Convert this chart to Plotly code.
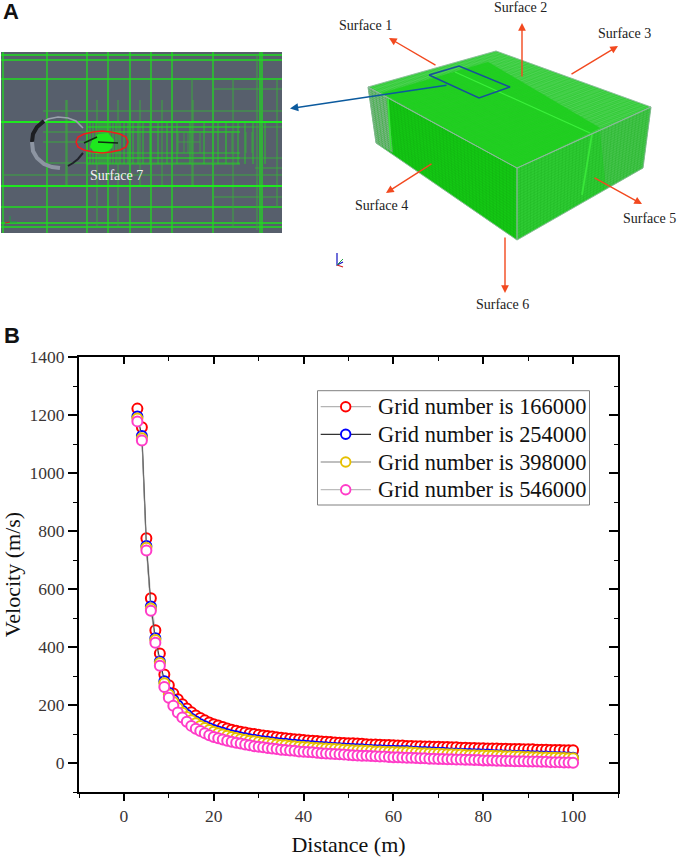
import plotly.graph_objects as go

# ---------- panel B data ----------
distance = list(range(3, 101))
grid_166000 = [1222,1158,775,568,458,378,305,268,240,220,
               203,188,175,164,155,147,140,134,129,124,
               119,115,111,108,105,102,100,97,95,93,
               91,89,87,85,84,82,81,79,78,77,
               76,74,73,72,71,70,69,68,68,67,
               66,65,64,64,63,62,62,61,60,60,
               59,59,58,58,57,57,56,56,55,55,
               54,54,53,53,52,52,51,51,50,50,
               50,49,49,48,48,48,47,47,47,46,
               46,46,45,45,45,44,44,44]
grid_254000 = [1195,1128,748,540,430,350,282,242,218,198,
               180,166,153,143,134,127,120,114,109,104,
               99,95,92,88,85,82,80,77,75,73,
               71,69,67,66,64,63,61,60,59,58,
               56,55,54,53,52,51,50,49,48,47,
               47,46,45,44,44,43,42,42,41,41,
               41,40,39,38,38,37,36,35,35,34,
               33,33,32,31,31,30,30,29,29,28,
               27,27,26,26,25,25,24,24,23,23,
               22,22,21,21,20,20,19,18]
grid_398000 = [1188,1120,742,533,424,345,275,236,210,190,
               173,159,147,137,128,121,114,108,103,98,
               94,90,86,83,80,77,75,72,70,68,
               66,64,62,61,59,58,56,55,54,53,
               52,51,50,49,48,47,46,45,44,43,
               43,42,41,40,40,39,38,38,37,37,
               37,36,35,34,34,33,32,32,31,30,
               30,29,29,28,27,27,26,26,25,25,
               24,24,23,23,22,22,21,21,20,20,
               19,19,18,18,17,17,16,16]
grid_546000 = [1178,1112,733,525,415,335,262,225,197,174,
               157,142,128,118,110,103,96,90,85,81,
               77,73,70,67,64,61,58,56,54,52,
               50,48,46,45,43,42,40,39,38,37,
               35,34,33,32,31,30,29,28,27,26,
               25,25,24,23,22,22,21,20,20,19,
               18,18,17,16,16,15,15,14,14,13,
               13,12,12,11,11,10,10,9,9,9,
               8,8,7,7,6,6,6,5,5,5,
               4,4,3,3,3,2,2,1]
series_names = ["Grid number is 166000", "Grid number is 254000",
                "Grid number is 398000", "Grid number is 546000"]
series_values = [grid_166000, grid_254000, grid_398000, grid_546000]
marker_colors = ["#ff0000", "#0000ff", "#e6c000", "#ff3cc8"]
line_colors = ["#b4b4b4", "#333333", "#808080", "#bcbcbc"]
plot_line_colors = ["rgba(170,170,170,0.6)", "#222222", "rgba(120,120,120,0.5)", "rgba(180,180,180,0.4)"]
legend_rows = [406.7, 434.3, 462, 489.7]

# ---------- panel A schematic ----------
mesh_long_v = [3, 47, 87, 108, 130, 151, 172, 213, 260, 262]
mesh_thin_v = [(97,100,226),(118,100,226),(140,100,186),(162,100,186),(193,100,186),(67,100,186),
               (233,79,226),(277,80,207),(257,55,230),(66,100,186),(192,79,186)]
mesh_long_h = [55, 60, 79, 122, 186, 207, 227, 223]
mesh_thin_h = [(43,282,111),(43,240,132),(43,240,163),(87,282,127),(87,282,158),(3,282,175),
               (213,282,89),(213,282,197),(255,282,168),(43,87,142)]
band_v = [87,90,93,96,99,101,103,105,107,110,113,116,120,124,128,133,138,143,150,158,167,
          177,190,204,218,226,238,245,253,265]
short_v = [178,184,188,192,200,226,232,246,252]
blob_x = [92,98,108,114,112,104,96,90]
blob_y = [140,134,133,140,148,154,154,147]
arc_top_x = [83,76,68,58,48,40]
arc_top_y = [128,121,118,117,119,124]
arc_left_x = [44,37,33,32,33,37,44,52,60]
arc_left_y = [121,127,134,142,151,158,164,167,168]
arc_low_x = [83,78,73,68]
arc_low_y = [153,159,163,166]
ellipse_x = [76,78,84,93,102,111,120,126,128,126,120,111,102,93,84,78,76]
ellipse_y = [142,137,134,132,131,132,134,137,142,147,150,152,153,152,150,147,142]

box_top = [(368,87),(496,51),(651,107),(517,168)]
box_left = [(368,87),(517,168),(517,240),(376,143)]
box_right = [(517,168),(651,107),(643,168),(517,240)]
top_bright = [(382,93),(488,62),(600,128),(517,168)]
left_strip = [(368,87),(387,97),(393,153),(376,143)]
right_fade = [(600,130),(651,107),(643,168),(606,189)]
ridge_x, ridge_y = [455,590], [72,133]
seam_left_x, seam_left_y = [388,391], [98,150]
seam_right_x, seam_right_y = [592,586,582], [134,170,195]
blue_box_x = [429,459,510,479,429]
blue_box_y = [75,66,87,98,75]
arrows = [(437,66,389,38),(522,78,522,23),(570,75,618,46),(433,163,386,193),(593,177,642,204),(505,236,505,293)]
surface_labels = [("Surface 1",365,25),("Surface 2",520,7),("Surface 3",624,33),
                  ("Surface 4",381,205),("Surface 5",649,218),("Surface 6",502,304)]

SERIF = "Liberation Serif"
fig = go.Figure()

def seg(xs, ys, color, width, fill=None, dash=None):
    fig.add_trace(go.Scatter(x=xs, y=ys, xaxis="x3", yaxis="y3", mode="lines", showlegend=False,
                             hoverinfo="skip", line=dict(color=color, width=width, dash=dash),
                             fill="toself" if fill else None, fillcolor=fill))

def poly(pts, fill, edge=None, w=0):
    xs = [p[0] for p in pts] + [pts[0][0]]
    ys = [p[1] for p in pts] + [pts[0][1]]
    seg(xs, ys, edge or fill, w, fill=fill)

def grid(c, nu, nv, color, width):
    xs, ys = [], []
    def at(u, v):
        ax, ay = c[0][0]+(c[1][0]-c[0][0])*u, c[0][1]+(c[1][1]-c[0][1])*u
        bx, by = c[3][0]+(c[2][0]-c[3][0])*u, c[3][1]+(c[2][1]-c[3][1])*u
        return ax+(bx-ax)*v, ay+(by-ay)*v
    for i in range(nu+1):
        a, b = at(i/nu, 0), at(i/nu, 1)
        xs += [a[0], b[0], None]; ys += [a[1], b[1], None]
    for j in range(nv+1):
        a, b = at(0, j/nv), at(1, j/nv)
        xs += [a[0], b[0], None]; ys += [a[1], b[1], None]
    seg(xs, ys, color, width)

# panel B series go first so the hidden full-page layer holds panel A and the key
for name, vals, mc, lc in zip(series_names, series_values, marker_colors, plot_line_colors):
    fig.add_trace(go.Scatter(x=distance, y=vals, name=name, mode="lines+markers", showlegend=False,
                             line=dict(color=lc, width=1.1),
                             marker=dict(symbol="circle", size=10, color="white",
                                         line=dict(color=mc, width=2))))
fig.add_trace(go.Scatter(x=[None], y=[None], xaxis="x2", yaxis="y2", showlegend=False, hoverinfo="skip"))

# left mesh picture
poly([(1,52),(282,52),(282,233),(1,233)], "#575f6c")
G, G2 = "#1fdc1f", "#3aa83f"
def vh(vs, hs, color, w):
    xs, ys = [], []
    for v in vs:
        xs += [v[0], v[0], None]; ys += [v[1], v[2], None]
    for h in hs:
        xs += [h[0], h[1], None]; ys += [h[2], h[2], None]
    seg(xs, ys, color, w)
vh([(v,52,233) for v in mesh_long_v], [(1,282,h) for h in mesh_long_h], G, 1.3)
vh(mesh_thin_v, mesh_thin_h, G2, 1)
vh([(v,122,164) for v in band_v], [(87,240,h) for h in (122,127,132,153,158,164)], G, 0.8)
vh([(v,132,153) for v in short_v], [(178,200,142)], G2, 0.8)
seg([1,282],[122,122],"#1ee81e",1.8)
seg([1,282],[186,186],"#1ee81e",1.8)
poly(list(zip(blob_x, blob_y)), "#1ee81e")
seg(arc_top_x, arc_top_y, "#9aa2ad", 1.5)
seg(arc_left_x[:4], arc_left_y[:4], "#1c1e22", 4)
seg(arc_left_x[3:], arc_left_y[3:], "#8d95a2", 4)
seg(arc_low_x, arc_low_y, "#20222a", 2)
seg([84,97],[143,137],"#102a10",1.6)
seg([98,118],[142,143],"#102a10",1.6)
seg(ellipse_x, ellipse_y, "#f01c1c", 1.6)
seg([10,10,17],[216,222,222],"#20a040",1)
seg([10,5],[222,223],"#d02020",1)

# box
poly(box_top, "#35cc3a")
poly(box_left, "#14c814")
poly(box_right, "#2ecb33")
poly(left_strip, "#7cb787")
poly(right_fade, "#45c44c")
grid(box_left, 42, 26, "#12a812", 0.3)
grid(box_right, 38, 26, "#18ac1c", 0.3)
grid(box_top, 50, 34, "#6ed874", 0.3)
poly(top_bright, "#1fd01f")
grid(top_bright, 40, 26, "#2cc72c", 0.3)
seg(ridge_x, ridge_y, "#3cf03c", 1.2)
seg(seam_left_x, seam_left_y, "#39e639", 1.6)
seg(seam_right_x, seam_right_y, "#39e639", 1.8)
for q in (box_top, box_left, box_right):
    seg([p[0] for p in q]+[q[0][0]], [p[1] for p in q]+[q[0][1]], "#8fb8a0", 0.8)
seg(blue_box_x, blue_box_y, "#16509c", 1.5)
seg([337,337,343],[253,265,262],"#1010c0",1.2)
seg([337,343],[265,267],"#d02020",1.2)
seg([337,343],[265,259],"#20a040",1)

# key of panel B
poly([(317.5,390.7),(589.5,390.7),(589.5,505),(317.5,505)], "white", "#808080", 1)
for y, lc, mc in zip(legend_rows, line_colors, marker_colors):
    seg([320.7,371],[y,y],lc,1.2)
    fig.add_trace(go.Scatter(x=[345.7], y=[y], xaxis="x3", yaxis="y3", mode="markers", showlegend=False,
                             hoverinfo="skip",
                             marker=dict(size=9.5, color="white", line=dict(color=mc, width=1.9))))

annots = []
for x0, y0, x1, y1 in arrows:
    annots.append(dict(x=x1, y=y1, ax=x0, ay=y0, xref="x3", yref="y3", axref="x3", ayref="y3", text="",
                       showarrow=True, arrowhead=2, arrowsize=1.1, arrowwidth=1.4, arrowcolor="#f2491f"))
annots.append(dict(x=290, y=108.5, ax=448, ay=85, xref="x3", yref="y3", axref="x3", ayref="y3", text="",
                   showarrow=True, arrowhead=2, arrowsize=1.1, arrowwidth=1.5, arrowcolor="#0b5a9e"))
for t, x, y in surface_labels:
    annots.append(dict(x=x, y=y, xref="x3", yref="y3", text=t, showarrow=False,
                       font=dict(family=SERIF, size=14, color="#222222")))
annots.append(dict(x=116, y=175, xref="x3", yref="y3", text="Surface 7", showarrow=False,
                   font=dict(family=SERIF, size=14, color="#f2f2f2")))
annots.append(dict(x=11, y=11, xref="x3", yref="y3", text="<b>A</b>", showarrow=False,
                   font=dict(family="Liberation Sans", size=22, color="#111111")))
annots.append(dict(x=12, y=335, xref="x3", yref="y3", text="<b>B</b>", showarrow=False,
                   font=dict(family="Liberation Sans", size=22, color="#111111")))
for name, y in zip(series_names, legend_rows):
    annots.append(dict(x=375.5, y=y, xref="x3", yref="y3", text=name, showarrow=False, xanchor="left",
                       font=dict(family=SERIF, size=22.4, color="#111111")))

tickfont = dict(family=SERIF, size=17.5, color="#3a3535")
xcommon = dict(range=[-10,110], tick0=0, dtick=20, ticklen=7, tickwidth=1.6, tickcolor="black",
               linecolor="black", linewidth=2, showgrid=False, zeroline=False,
               domain=[79/678, 618/678])
ycommon = dict(range=[-100,1400], tick0=0, dtick=200, ticklen=9, tickwidth=1.6, tickcolor="black",
               linecolor="black", linewidth=2, showgrid=False, zeroline=False,
               domain=[1-792/859, 1-357/859])
xminor = dict(dtick=10, tick0=0, ticklen=4, tickwidth=1.4, tickcolor="black", showgrid=False)
yminor = dict(dtick=100, tick0=0, ticklen=4, tickwidth=1.4, tickcolor="black", showgrid=False)

fig.update_layout(
    width=678, height=859, autosize=False,
    margin=dict(l=0, r=0, t=0, b=0, autoexpand=False),
    paper_bgcolor="white", plot_bgcolor="rgba(0,0,0,0)", showlegend=False, annotations=annots,
    xaxis=dict(**xcommon, ticks="outside", minor=dict(ticks="outside", **xminor), tickfont=tickfont,
               anchor="y", title=dict(text="Distance (m)", standoff=12,
                                      font=dict(family=SERIF, size=22, color="#111111"))),
    yaxis=dict(**ycommon, ticks="outside", minor=dict(ticks="outside", **yminor), tickfont=tickfont,
               anchor="x", title=dict(text="Velocity (m/s)", standoff=10,
                                      font=dict(family=SERIF, size=22, color="#111111"))),
    xaxis2=dict(**xcommon, ticks="inside", minor=dict(ticks="inside", **xminor), side="top",
                overlaying="x", anchor="y2", showticklabels=False),
    yaxis2=dict(**ycommon, ticks="inside", minor=dict(ticks="inside", **yminor), side="right",
                overlaying="y", anchor="x2", showticklabels=False),
    xaxis3=dict(domain=[0,1], range=[0,678], visible=False, anchor="y3", fixedrange=True),
    yaxis3=dict(domain=[0,1], range=[859,0], visible=False, anchor="x3", fixedrange=True),
)

fig.write_html("out.html", config={"displayModeBar": False},
               post_script="document.body.style.margin='0';")
